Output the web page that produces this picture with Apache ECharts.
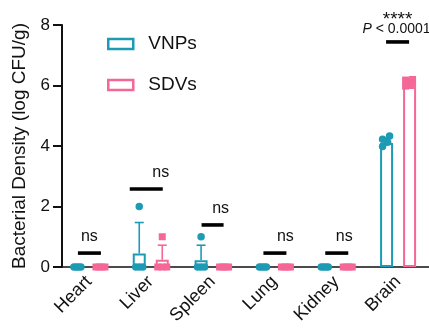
<!DOCTYPE html>
<html><head><meta charset="utf-8">
<script src="https://cdn.jsdelivr.net/npm/echarts@6/dist/echarts.min.js"></script>
<style>html,body{margin:0;padding:0;background:#fff}#c{width:429px;height:336px}</style>
</head><body><div id="c"></div>
<script>
// ---- data ----
const categories = ['Heart', 'Liver', 'Spleen', 'Lung', 'Kidney', 'Brain'];
const vnpMean = [0, 0.45, 0.22, 0, 0, 4.1];
const vnpSD   = [0, 1.02, 0.5, 0, 0, 0.15];
const sdvMean = [0, 0.24, 0, 0, 0, 6.1];
const sdvSD   = [0, 0.48, 0, 0, 0, 0.1];
const vnpPoints = [[0,0,0,0],[2.0,0,0,0],[1.0,0,0,0],[0,0,0,0],[0,0,0,0],[4.33,4.22,4.12,3.98]];
const sdvPoints = [[0,0,0,0],[1.0,0,0,0],[0,0,0,0],[0,0,0,0],[0,0,0,0],[6.2,6.18,6.0,5.98]];
const sigY = [0.46, 2.58, 1.39, 0.46, 0.46, 7.44];
const sigLabels = ['ns', 'ns', 'ns', 'ns', 'ns', '****'];
const brainP = 'P < 0.0001';
const yTicks = [0, 2, 4, 6, 8];

// ---- style ----
const TEAL = '#1d9ab4', PINK = '#f56796';
const FONT = '"Liberation Sans", Arial, Helvetica, sans-serif';
const BAR_SHIFT = 11.5;            // px offset of each bar from category centre
const sigHalfW = [11.5, 16.5, 11, 11.5, 11.5, 11.5];
const sigShift = [0.5, -4.5, 0, 0.5, 0.5, -0.5];
const nsShift  = [0.5, 10, 8, 11, 8, 0];
const jitterNZ = [3, -4, 1, -4];

function pointData(points, side, zeroSpread) {
  const out = [];
  points.forEach((grp, ci) => {
    const zeros = grp.filter(v => v === 0).length;
    const nz = grp.filter(v => v !== 0).length;
    let zi = 0, ni = 0;
    grp.forEach(v => {
      let dx;
      if (v === 0) {
        dx = zeros > 1 ? -zeroSpread + (2 * zeroSpread) * zi / (zeros - 1) : 0; zi++;
      } else {
        dx = nz > 1 ? jitterNZ[ni % jitterNZ.length] : 0; ni++;
      }
      out.push({ value: [ci, v], symbolOffset: [side * BAR_SHIFT + dx, 0] });
    });
  });
  return out;
}

function errSeries(name, mean, sd, color, side) {
  return {
    name: name, type: 'custom', z: 3,
    data: categories.map((c, i) => [i, mean[i], sd[i]]),
    renderItem: function (params, api) {
      const s = api.value(2);
      if (!s) return null;
      const p = api.coord([api.value(0), api.value(1)]);
      const t = api.coord([api.value(0), api.value(1) + s]);
      const x = p[0] + side * BAR_SHIFT;
      const st = { stroke: color, lineWidth: 1.6 };
      return { type: 'group', children: [
        { type: 'line', shape: { x1: x, y1: p[1], x2: x, y2: t[1] }, style: st },
        { type: 'line', shape: { x1: x - 4.5, y1: t[1], x2: x + 4.5, y2: t[1] }, style: st }
      ]};
    }
  };
}

const chart = echarts.init(document.getElementById('c'), null, { renderer: 'canvas' });
chart.setOption({
  animation: false,
  textStyle: { fontFamily: FONT },
  grid: { left: 58, right: 0, top: 25, bottom: 69, containLabel: false },
  legend: {
    orient: 'vertical', left: 107, top: 34, padding: 0, itemWidth: 25, itemHeight: 10, itemGap: 21,
    selectedMode: false,
    textStyle: { fontSize: 19, color: '#111', lineHeight: 20, padding: [0, 0, 0, 10], fontFamily: FONT },
    data: [
      { name: 'VNPs', icon: 'rect', itemStyle: { color: '#fff', borderColor: TEAL, borderWidth: 2.5 } },
      { name: 'SDVs', icon: 'rect', itemStyle: { color: '#fff', borderColor: PINK, borderWidth: 2.5 } }
    ]
  },
  xAxis: {
    type: 'category', data: categories,
    axisLine: { lineStyle: { color: '#111', width: 1.6 } },
    axisTick: { alignWithLabel: true, length: 9, lineStyle: { color: '#111', width: 2 } },
    axisLabel: { rotate: 45, fontSize: 18, color: '#111', margin: 12, fontFamily: FONT },
    splitLine: { show: false }
  },
  yAxis: {
    type: 'value', min: yTicks[0], max: yTicks[yTicks.length - 1], interval: 2, offset: -4,
    name: 'Bacterial Density (log CFU/g)', nameLocation: 'middle', nameGap: 28,
    nameTextStyle: { fontSize: 19, color: '#111', fontFamily: FONT },
    axisLine: { show: true, lineStyle: { color: '#111', width: 2 } },
    axisTick: { show: true, length: 9, lineStyle: { color: '#111', width: 2 } },
    axisLabel: { fontSize: 17, color: '#111', margin: 12, fontFamily: FONT },
    splitLine: { show: false }
  },
  series: [
    { name: 'VNPs', type: 'bar', data: vnpMean, barWidth: 13, barGap: '77%', z: 2,
      itemStyle: { color: '#fff', borderColor: TEAL, borderWidth: 2 } },
    { name: 'SDVs', type: 'bar', data: sdvMean, barWidth: 13, z: 2,
      itemStyle: { color: '#fff', borderColor: PINK, borderWidth: 2 } },
    errSeries('VNPs-err', vnpMean, vnpSD, TEAL, -1),
    errSeries('SDVs-err', sdvMean, sdvSD, PINK, 1),
    { name: 'VNPs-pts', type: 'scatter', symbol: 'circle', symbolSize: 7.5, z: 4,
      itemStyle: { color: TEAL, opacity: 1 }, data: pointData(vnpPoints, -1, 3.5) },
    { name: 'SDVs-pts', type: 'scatter', symbol: 'rect', symbolSize: 7, z: 4,
      itemStyle: { color: PINK, opacity: 1 }, data: pointData(sdvPoints, 1, 4.5) },
    { name: 'sig', type: 'custom', z: 5,
      data: categories.map((c, i) => [i, sigY[i]]),
      renderItem: function (params, api) {
        const i = api.value(0);
        const p = api.coord([i, api.value(1)]);
        const cx = p[0] + sigShift[i];
        const kids = [
          { type: 'line', shape: { x1: cx - sigHalfW[i], y1: p[1], x2: cx + sigHalfW[i], y2: p[1] },
            style: { stroke: '#000', lineWidth: 3.6 } }
        ];
        if (sigLabels[i] === 'ns') {
          kids.push({ type: 'text', x: p[0] + nsShift[i], y: p[1] - 8,
            style: { text: 'ns', fill: '#111', font: '16px ' + FONT, align: 'center', verticalAlign: 'bottom' } });
        } else {
          kids.push({ type: 'text', x: cx, y: p[1] - 22,
            style: { text: sigLabels[i], fill: '#111', font: '19px ' + FONT, align: 'center', verticalAlign: 'middle' } });
          kids.push({ type: 'text', x: cx - 1, y: p[1] - 13,
            style: { text: '{i|P}' + brainP.slice(1), fill: '#111', font: '14px ' + FONT, align: 'center', verticalAlign: 'middle',
              rich: { i: { fontStyle: 'italic', fontSize: 14, fontFamily: FONT, fill: '#111' } } } });
        }
        return { type: 'group', children: kids };
      }
    }
  ]
});
</script></body></html>
